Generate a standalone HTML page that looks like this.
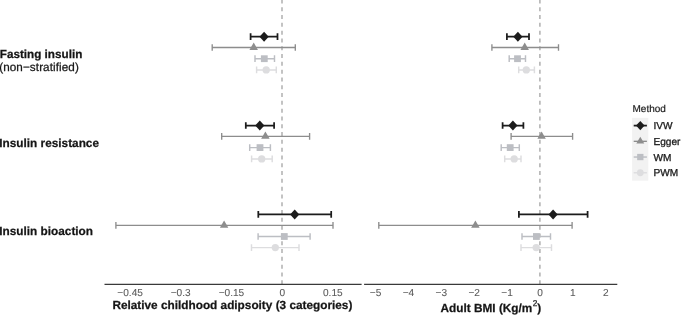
<!DOCTYPE html>
<html><head><meta charset="utf-8"><title>Forest plot</title>
<style>
html,body{margin:0;padding:0;background:#fff;}
svg{display:block;text-rendering:geometricPrecision;font-family:"Liberation Sans",Arial,Helvetica,sans-serif;}
.lab{font-size:11.7px;fill:#151515;stroke:#151515;stroke-width:0.25px;}
.b{font-weight:bold;}
.t{filter:grayscale(1);}
.tick{font-size:10.1px;fill:#5a5a5a;stroke:#5a5a5a;stroke-width:0.08px;text-anchor:middle;}
.leg{font-size:10.1px;fill:#1a1a1a;stroke:#1a1a1a;stroke-width:0.3px;}
</style></head><body>
<svg width="685" height="315" viewBox="0 0 685 315">
<rect width="685" height="315" fill="#fff"/>
<line x1="282.0" y1="-0.55" x2="282.0" y2="284.3" stroke="#adadad" stroke-width="1.45" stroke-dasharray="4 3.8"/>
<line x1="539.9" y1="-0.55" x2="539.9" y2="284.3" stroke="#adadad" stroke-width="1.45" stroke-dasharray="4 3.8"/>
<path d="M250.60,36.70H277.50M250.60,33.35V40.05M277.50,33.35V40.05" stroke="#1c1c1c" stroke-width="1.75" fill="none"/><polygon points="259.50,36.70 264.10,31.70 268.70,36.70 264.10,41.70" fill="#1c1c1c"/>
<path d="M212.20,47.50H295.30M212.20,44.15V50.85M295.30,44.15V50.85" stroke="#8d8d8d" stroke-width="1.35" fill="none"/><polygon points="253.70,42.60 257.94,49.95 249.46,49.95" fill="#8d8d8d"/>
<path d="M255.00,58.70H274.50M255.00,55.35V62.05M274.50,55.35V62.05" stroke="#bcbec3" stroke-width="1.45" fill="none"/><rect x="260.90" y="55.30" width="6.80" height="6.80" fill="#bcbec3"/>
<path d="M256.60,69.90H276.30M256.60,66.55V73.25M276.30,66.55V73.25" stroke="#dddddf" stroke-width="1.45" fill="none"/><circle cx="266.20" cy="69.90" r="3.65" fill="#dddddf"/>
<path d="M245.80,125.50H274.10M245.80,122.15V128.85M274.10,122.15V128.85" stroke="#1c1c1c" stroke-width="1.75" fill="none"/><polygon points="255.20,125.50 259.80,120.50 264.40,125.50 259.80,130.50" fill="#1c1c1c"/>
<path d="M221.70,136.40H309.60M221.70,133.05V139.75M309.60,133.05V139.75" stroke="#8d8d8d" stroke-width="1.35" fill="none"/><polygon points="265.40,131.50 269.64,138.85 261.16,138.85" fill="#8d8d8d"/>
<path d="M249.70,147.60H270.40M249.70,144.25V150.95M270.40,144.25V150.95" stroke="#bcbec3" stroke-width="1.45" fill="none"/><rect x="256.60" y="144.20" width="6.80" height="6.80" fill="#bcbec3"/>
<path d="M251.60,158.90H272.20M251.60,155.55V162.25M272.20,155.55V162.25" stroke="#dddddf" stroke-width="1.45" fill="none"/><circle cx="261.70" cy="158.90" r="3.65" fill="#dddddf"/>
<path d="M258.30,214.40H331.20M258.30,211.05V217.75M331.20,211.05V217.75" stroke="#1c1c1c" stroke-width="1.75" fill="none"/><polygon points="290.10,214.40 294.70,209.40 299.30,214.40 294.70,219.40" fill="#1c1c1c"/>
<path d="M115.90,225.30H333.00M115.90,221.95V228.65M333.00,221.95V228.65" stroke="#8d8d8d" stroke-width="1.35" fill="none"/><polygon points="224.10,220.40 228.34,227.75 219.86,227.75" fill="#8d8d8d"/>
<path d="M258.10,236.50H310.10M258.10,233.15V239.85M310.10,233.15V239.85" stroke="#bcbec3" stroke-width="1.45" fill="none"/><rect x="280.90" y="233.10" width="6.80" height="6.80" fill="#bcbec3"/>
<path d="M251.50,247.60H299.00M251.50,244.25V250.95M299.00,244.25V250.95" stroke="#dddddf" stroke-width="1.45" fill="none"/><circle cx="275.30" cy="247.60" r="3.65" fill="#dddddf"/>
<path d="M506.90,36.70H529.00M506.90,33.35V40.05M529.00,33.35V40.05" stroke="#1c1c1c" stroke-width="1.75" fill="none"/><polygon points="513.30,36.70 517.90,31.70 522.50,36.70 517.90,41.70" fill="#1c1c1c"/>
<path d="M491.90,47.50H558.50M491.90,44.15V50.85M558.50,44.15V50.85" stroke="#8d8d8d" stroke-width="1.35" fill="none"/><polygon points="524.70,42.60 528.94,49.95 520.46,49.95" fill="#8d8d8d"/>
<path d="M509.20,58.70H525.50M509.20,55.35V62.05M525.50,55.35V62.05" stroke="#bcbec3" stroke-width="1.45" fill="none"/><rect x="514.10" y="55.30" width="6.80" height="6.80" fill="#bcbec3"/>
<path d="M518.70,69.90H534.40M518.70,66.55V73.25M534.40,66.55V73.25" stroke="#dddddf" stroke-width="1.45" fill="none"/><circle cx="526.30" cy="69.90" r="3.65" fill="#dddddf"/>
<path d="M502.60,125.50H523.40M502.60,122.15V128.85M523.40,122.15V128.85" stroke="#1c1c1c" stroke-width="1.75" fill="none"/><polygon points="508.30,125.50 512.90,120.50 517.50,125.50 512.90,130.50" fill="#1c1c1c"/>
<path d="M511.10,136.40H572.60M511.10,133.05V139.75M572.60,133.05V139.75" stroke="#8d8d8d" stroke-width="1.35" fill="none"/><polygon points="541.60,131.50 545.84,138.85 537.36,138.85" fill="#8d8d8d"/>
<path d="M501.20,147.60H519.30M501.20,144.25V150.95M519.30,144.25V150.95" stroke="#bcbec3" stroke-width="1.45" fill="none"/><rect x="506.80" y="144.20" width="6.80" height="6.80" fill="#bcbec3"/>
<path d="M504.70,158.90H521.00M504.70,155.55V162.25M521.00,155.55V162.25" stroke="#dddddf" stroke-width="1.45" fill="none"/><circle cx="514.20" cy="158.90" r="3.65" fill="#dddddf"/>
<path d="M518.90,214.40H587.60M518.90,211.05V217.75M587.60,211.05V217.75" stroke="#1c1c1c" stroke-width="1.75" fill="none"/><polygon points="548.50,214.40 553.10,209.40 557.70,214.40 553.10,219.40" fill="#1c1c1c"/>
<path d="M378.80,225.30H572.10M378.80,221.95V228.65M572.10,221.95V228.65" stroke="#8d8d8d" stroke-width="1.35" fill="none"/><polygon points="475.40,220.40 479.64,227.75 471.16,227.75" fill="#8d8d8d"/>
<path d="M522.00,236.50H550.50M522.00,233.15V239.85M550.50,233.15V239.85" stroke="#bcbec3" stroke-width="1.45" fill="none"/><rect x="533.00" y="233.10" width="6.80" height="6.80" fill="#bcbec3"/>
<path d="M521.00,247.60H551.50M521.00,244.25V250.95M551.50,244.25V250.95" stroke="#dddddf" stroke-width="1.45" fill="none"/><circle cx="536.20" cy="247.60" r="3.65" fill="#dddddf"/>
<line x1="104.5" y1="284.3" x2="361.6" y2="284.3" stroke="#3a3a3a" stroke-width="1.3"/>
<line x1="364.1" y1="284.3" x2="617.3" y2="284.3" stroke="#3a3a3a" stroke-width="1.3"/>
<g class="t">
<text class="tick" x="130.1" y="296">−0.45</text>
<text class="tick" x="180.6" y="296">−0.3</text>
<text class="tick" x="231.4" y="296">−0.15</text>
<text class="tick" x="282.2" y="296">0</text>
<text class="tick" x="332.8" y="296">0.15</text>
<text class="tick" x="375.5" y="296">−5</text>
<text class="tick" x="408.4" y="296">−4</text>
<text class="tick" x="441.3" y="296">−3</text>
<text class="tick" x="474.2" y="296">−2</text>
<text class="tick" x="507.1" y="296">−1</text>
<text class="tick" x="540.0" y="296">0</text>
<text class="tick" x="572.9" y="296">1</text>
<text class="tick" x="605.8" y="296">2</text>
<text class="lab b" style="font-size:11.8px" x="232.4" y="309" text-anchor="middle">Relative childhood adipsoity (3 categories)</text>
<text class="lab b" style="font-size:11.8px" x="440.6" y="312">Adult BMI (Kg/m<tspan font-size="8.3px" font-weight="normal" dy="-5.8" dx="0.3">2</tspan><tspan dy="5.8" dx="-0.1">)</tspan></text>
<text class="lab b" x="-0.2" y="58">Fasting insulin</text>
<text class="lab" style="letter-spacing:0.09px" x="-0.8" y="71">(non−stratified)</text>
<text class="lab b" style="font-size:11.8px" x="-0.7" y="147">Insulin resistance</text>
<text class="lab b" style="font-size:11.8px" x="-0.7" y="235">Insulin bioaction</text>
<text class="leg" style="font-size:10px;stroke-width:0.18px" x="632.5" y="112">Method</text>
<text class="leg" x="653.5" y="129">IVW</text>
<text class="leg" x="653.5" y="145">Egger</text>
<text class="leg" x="653.5" y="161">WM</text>
<text class="leg" x="653.5" y="176">PWM</text>
</g>
<rect x="632.1" y="117.8" width="16.2" height="62.9" fill="#f2f2f2"/>
<line x1="633.7" y1="125.60" x2="646.9" y2="125.60" stroke="#1c1c1c" stroke-width="1.75"/>
<polygon points="636.02,125.60 640.30,120.95 644.58,125.60 640.30,130.25" fill="#1c1c1c"/>
<line x1="633.7" y1="141.32" x2="646.9" y2="141.32" stroke="#8d8d8d" stroke-width="1.35"/>
<polygon points="640.30,136.76 644.25,143.60 636.35,143.60" fill="#8d8d8d"/>
<line x1="633.7" y1="157.04" x2="646.9" y2="157.04" stroke="#bcbec3" stroke-width="1.45"/>
<rect x="637.14" y="153.88" width="6.32" height="6.32" fill="#bcbec3"/>
<line x1="633.7" y1="172.76" x2="646.9" y2="172.76" stroke="#dddddf" stroke-width="1.45"/>
<circle cx="640.30" cy="172.76" r="3.39" fill="#dddddf"/>
</svg></body></html>
